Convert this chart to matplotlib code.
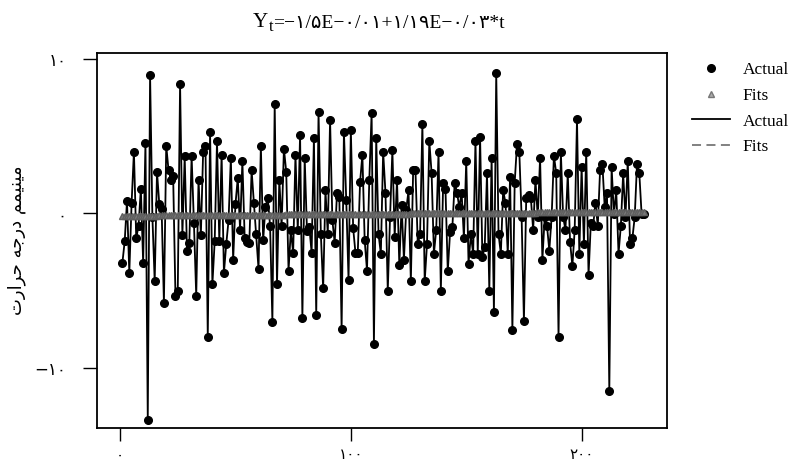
import numpy as np
import matplotlib
matplotlib.use('Agg')
import matplotlib.pyplot as plt
from matplotlib.lines import Line2D

# Minimum temperature series, one value per time step
minTemp = [
    -3.2, -1.8, 0.8, -3.85, 0.7, 4.0, -1.6, -0.8, 1.6, -3.2, 4.6, -13.35, 9.0, -0.2, -4.4, 2.7,
    0.6, 0.3, -5.8, 4.4, 2.8, 2.2, 2.4, -5.35, -5.0, 8.4, -1.4, 3.7, -2.4, -1.9, 3.7, -0.6,
    -5.35, 2.2, -1.4, 4.0, 4.4,
    -8.0, 5.3, -4.6, -1.8, 4.7, -1.8, 3.8, -3.85, -2.0, -0.45, 3.6, -3.0, 0.6, 2.3, -1.05, 3.4,
    -1.6, -1.85, -1.9, 2.8, 0.7, -1.35, -3.6, 4.4, -1.75, 0.45, 1.0, -0.8, -7.0, 7.1, -4.6, 2.2,
    -0.8, 4.2, 2.7, -3.7, -1.1, -2.55, 3.8,
    -1.1, 5.1, -6.75, 3.6, -1.15, -0.85, -2.55, 4.9, -6.6, 6.6, -1.35, -4.85, 1.5, -1.3, 6.05,
    -0.45, -1.9, 1.35, 1.1, -7.5, 5.3, 0.9, -4.3, 5.4, -0.95, -2.55, -2.55, 2.05, 3.8, -1.75,
    -3.7, 2.2, 6.5, -8.45, 4.9, -1.35, -2.6, 4.0, 1.35,
    -5.0, -0.2, 4.1, -1.5, 2.2, -3.35, 0.55, -3.0, 0.25, 1.5, -4.4, 2.8, 2.8, -2.0, -1.35, 5.8,
    -4.4, -2.0, 4.7, 2.6, -2.6, -1.05, 4.0, -5.0, 2.0, 1.6, -3.75, -1.2, -0.85, 2.0, 1.35, 0.4,
    1.35, -1.6, 3.4, -3.25, -1.35, -2.6, 4.7, -2.6,
    4.97, -2.8, -2.2, 2.6, -5.0, 3.6, -6.4, 9.1, -1.35, -2.6, 1.5, 0.7, -2.6, 2.35, -7.55, 2.0,
    4.5, 4.0, -0.25, -6.95, 1.0, 1.2, 1.0, -1.05, 2.2, -0.25, 3.6, -3.0, -0.25, -0.8, -2.4,
    -0.25, 3.75, 2.6, -8.0, 4.0, -0.25, -1.05, 2.6,
    -1.85, -3.4, -1.05, 6.1, -2.6, 3.0, -2.0, 4.0, -4.0, -0.6, -0.8, 0.7, -0.8, 2.8, 3.2, 0.4,
    1.35, -11.5, 3.0, -0.06, 1.5, -2.6, -0.8, 2.6, -0.25, 3.4, -2.0, -1.6, -0.25, 3.2, 2.6,
    -0.06, -0.06,
]

# Trend model from the title: Yt = -1.5E-01 + 1.19E-03 * t
intercept = -0.15
slope = 0.00119

xTicks = [0, 100, 200]
xTickLabels = ['۰', '۱۰۰', '۲۰۰']
yTicks = [-10, 0, 10]
yTickLabels = ['−۱۰', '۰', '۱۰']

# Arabic presentation forms in visual order (matplotlib does no shaping / bidi)
yLabel = ('\uFE95\uFEAD\uFE8D\uFEAE\uFEA3' + ' ' +
          '\uFEEA\uFE9F\uFEAD\uFEA9' + ' ' +
          '\uFEE2\uFEE4\uFEF4\uFEE8\uFEF4\uFEE3')

serifFonts = ['Liberation Serif', 'DejaVu Sans']

t = np.arange(1, len(minTemp) + 1)
fits = intercept + slope * t

fig = plt.figure(figsize=(8, 4.68), dpi=100)
ax = fig.add_axes([97 / 800, 1 - 428 / 468, (667 - 97) / 800, (428 - 53) / 468])

ax.plot(t, minTemp, color='black', lw=1.3, marker='o', ms=5.5, zorder=2)
ax.plot(t, fits, color='#5f5f5f', lw=1.8, ls='--', marker='^', ms=4.5,
        mec='#5f5f5f', mfc='#7a7a7a', zorder=3)

ax.set_xlim(-10, 237)
ax.set_ylim(-13.9, 10.4)
ax.set_xticks(xTicks)
ax.set_xticklabels(xTickLabels, fontsize=11, family='DejaVu Sans')
ax.set_yticks(yTicks)
ax.set_yticklabels(yTickLabels, fontsize=12, family='DejaVu Sans')
ax.tick_params(axis='x', direction='out', length=9, width=1, pad=5)
ax.tick_params(axis='y', direction='out', length=10, width=1, pad=12)
for spine in ax.spines.values():
    spine.set_linewidth(1.3)

ax.set_ylabel(yLabel, fontsize=13, family='DejaVu Sans')
ax.yaxis.set_label_coords(-0.125, 0.5)

# Title: "Y" with subscript "t", then the equation
titleY = fig.text(253 / 800, 1 - 27 / 468, 'Y', fontsize=15, family=serifFonts, va='baseline')
titleT = ax.annotate('t', xy=(1, 0), xycoords=titleY, xytext=(0.3, -2.5),
                     textcoords='offset points', fontsize=12, family=serifFonts,
                     ha='left', va='bottom')
ax.annotate('=−۱/۵E−۰/۰۱+۱/۱۹E−۰/۰۳*t', xy=(1, 0), xycoords=titleT, xytext=(0, 2.5),
            textcoords='offset points', fontsize=14, family=serifFonts,
            ha='left', va='bottom')

# Legend outside on the right
handles = [
    Line2D([], [], color='black', marker='o', ls='None', ms=5.5),
    Line2D([], [], color='#777777', marker='^', ls='None', ms=4, mfc='#aaaaaa'),
    Line2D([], [], color='black', lw=1.3),
    Line2D([], [], color='#777777', lw=1.3, ls=(0, (5, 3))),
]
fig.legend(handles, ['Actual', 'Fits', 'Actual', 'Fits'], loc='upper left',
           bbox_to_anchor=(692 / 800, 1 - 62 / 468), bbox_transform=fig.transFigure,
           frameon=False, prop={'family': serifFonts, 'size': 12.5},
           handlelength=2.2, handletextpad=0.7, labelspacing=0.55, borderpad=0,
           borderaxespad=0)

fig.savefig('out.png', dpi=100)
